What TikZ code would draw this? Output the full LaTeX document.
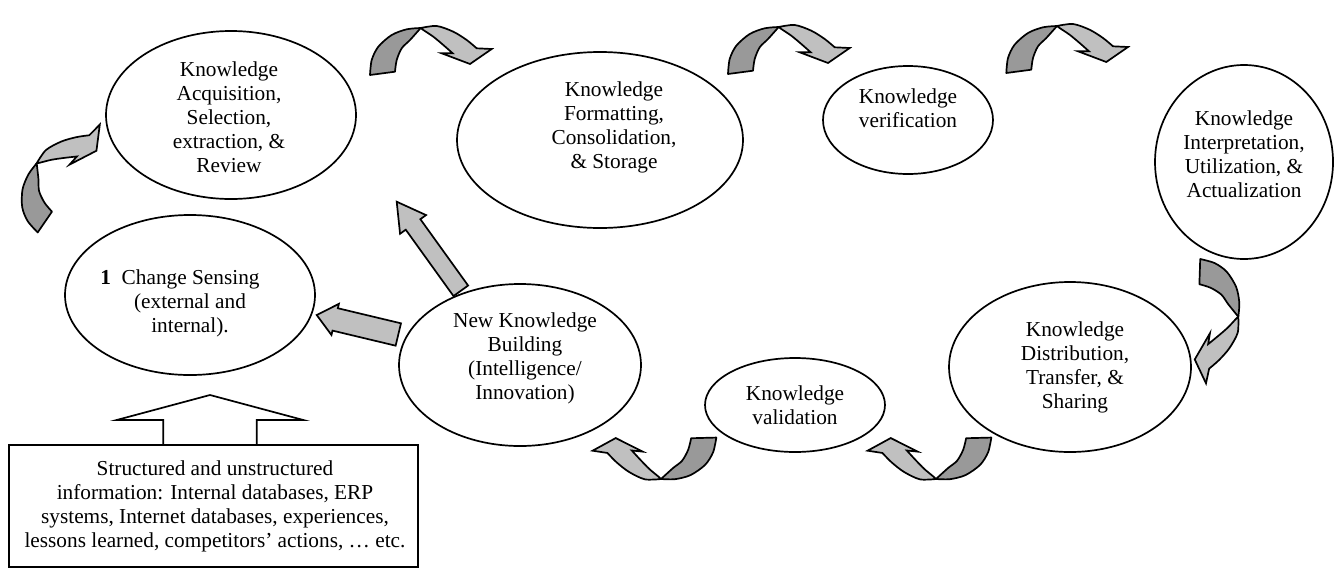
\documentclass[tikz,border=0pt]{standalone}
\usepackage{fontspec}
\setmainfont{Liberation Serif}
\usetikzlibrary{calc,shapes.geometric}
\definecolor{darkg}{RGB}{153,153,153}
\definecolor{lightg}{RGB}{192,192,192}
\newcommand\fatarrow[5]{%
  \coordinate (fa-b) at ($(#2)!#5pt!(#1)$);
  \filldraw[fat] ($(#1)!#3pt!90:(#2)$) -- ($(fa-b)!#3pt!90:(#2)$) -- ($(fa-b)!#4pt!90:(#2)$) -- (#2)
     -- ($(fa-b)!#4pt!-90:(#2)$) -- ($(fa-b)!#3pt!-90:(#2)$) -- ($(#1)!#3pt!-90:(#2)$) -- cycle;}
\begin{document}
\begin{tikzpicture}[x=1pt,y=-1pt,
  ell/.style={draw,ellipse,line width=1.7pt,inner sep=0pt},
  txt/.style={align=center,inner sep=0pt,font=\fontsize{21.3}{24}\selectfont},
  darkpart/.style={fill=darkg,draw=black,line width=1.7pt,line join=round},
  lightpart/.style={fill=lightg,draw=black,line width=1.7pt,line join=miter},
  fat/.style={fill=lightg,draw=black,line width=1.7pt,line join=miter},
  curvarr/.pic={
    \filldraw[darkpart] plot[smooth] coordinates{(0,0) (-14,1.3) (-29,7) (-42.4,18.7) (-49,32) (-50.7,47)}
       -- plot[smooth] coordinates{(-25.7,43.7) (-24,32) (-19,20.3) (-10.7,12) (0,0)} -- cycle;
    \filldraw[lightpart] plot[smooth] coordinates{(0,0) (16,-2) (32.6,3.7) (46,12) (56,20.3)}
       -- (71,21) -- (49.3,36) -- (21,25.3)
       -- plot[smooth] coordinates{(32,25.3) (22.6,17) (12.6,8.7) (2.6,2) (0,0)} -- cycle;
  }]
\path[use as bounding box] (0,0) rectangle (1338,568);

% ellipses
\node[ell,minimum width=250pt,minimum height=168pt] (acq) at (231,115) {};
\node[txt] (acqt) at (229,117) {Knowledge\\Acquisition,\\Selection,\\extraction, \&\\Review};
\node[ell,minimum width=286pt,minimum height=176pt] (fmt) at (600,140) {};
\node[txt] (fmtt) at (614,127) {Knowledge\\Formatting,\\Consolidation,\\\& Storage};
\node[ell,minimum width=170pt,minimum height=108pt] (ver) at (908,120) {};
\node[txt] (vert) at (908,108) {Knowledge\\verification};
\node[ell,minimum width=178pt,minimum height=194pt] (int) at (1244,162) {};
\node[txt] (intt) at (1244,154) {Knowledge\\Interpretation,\\Utilization, \&\\Actualization};
\node[ell,minimum width=242pt,minimum height=170pt] (dist) at (1070,367) {};
\node[txt] (distt) at (1075,367) {Knowledge\\Distribution,\\Transfer, \&\\Sharing};
\node[ell,minimum width=180pt,minimum height=94pt] (val) at (795,405) {};
\node[txt] (valt) at (val) {Knowledge\\validation};
\node[ell,minimum width=242pt,minimum height=162pt] (nk) at (520,365) {};
\node[txt] (nkt) at (525,358) {New Knowledge\\Building\\(Intelligence/\\Innovation)};
\node[ell,minimum width=250pt,minimum height=160pt] (cs) at (190,295) {};
\node[txt] (cst) at (190,303) {\textbf{1}\enspace Change Sensing\hspace*{20pt}\\(external and\\internal).};

% source box
\node[draw,line width=1.7pt,minimum width=409pt,minimum height=122pt,inner sep=0pt] (box) at (213.5,506) {};
\node[txt] (boxt) at (215,506) {Structured and unstructured\\information: Internal databases, ERP\\systems, Internet databases, experiences,\\lessons learned, competitors’ actions, … etc.};
\coordinate (upT) at (210,395);
\draw[line width=1.7pt,line join=miter] ($(upT)+(-46.7,50)$) -- ++(0,-25) -- ++(-46.6,0) -- (upT)
   -- ++(93.3,25) -- ++(-46.6,0) -- ++(0,25);

% curved arrows
\pic[rotate=48] (arrA) at (36.7,163.3) {curvarr};
\pic (arrB) at (420.7,28) {curvarr};
\pic (arrC) at (778.7,27) {curvarr};
\pic (arrD) at (1057,26) {curvarr};
\pic[rotate=-99.4] (arrE) at (1238.3,316.7) {curvarr};
\pic[rotate=-186] (arrF) at (936,479) {curvarr};
\pic[rotate=-186] (arrG) at (661,479) {curvarr};

% straight block arrows
\coordinate (hS) at (460.8,290.8);
\coordinate (hE) at (396.7,201.7);
\fatarrow{hS}{hE}{9}{16}{28}
\coordinate (iS) at (398.3,334.5);
\coordinate (iE) at (316.7,315);
\fatarrow{iS}{iE}{11.5}{16}{19}
\end{tikzpicture}
\end{document}
